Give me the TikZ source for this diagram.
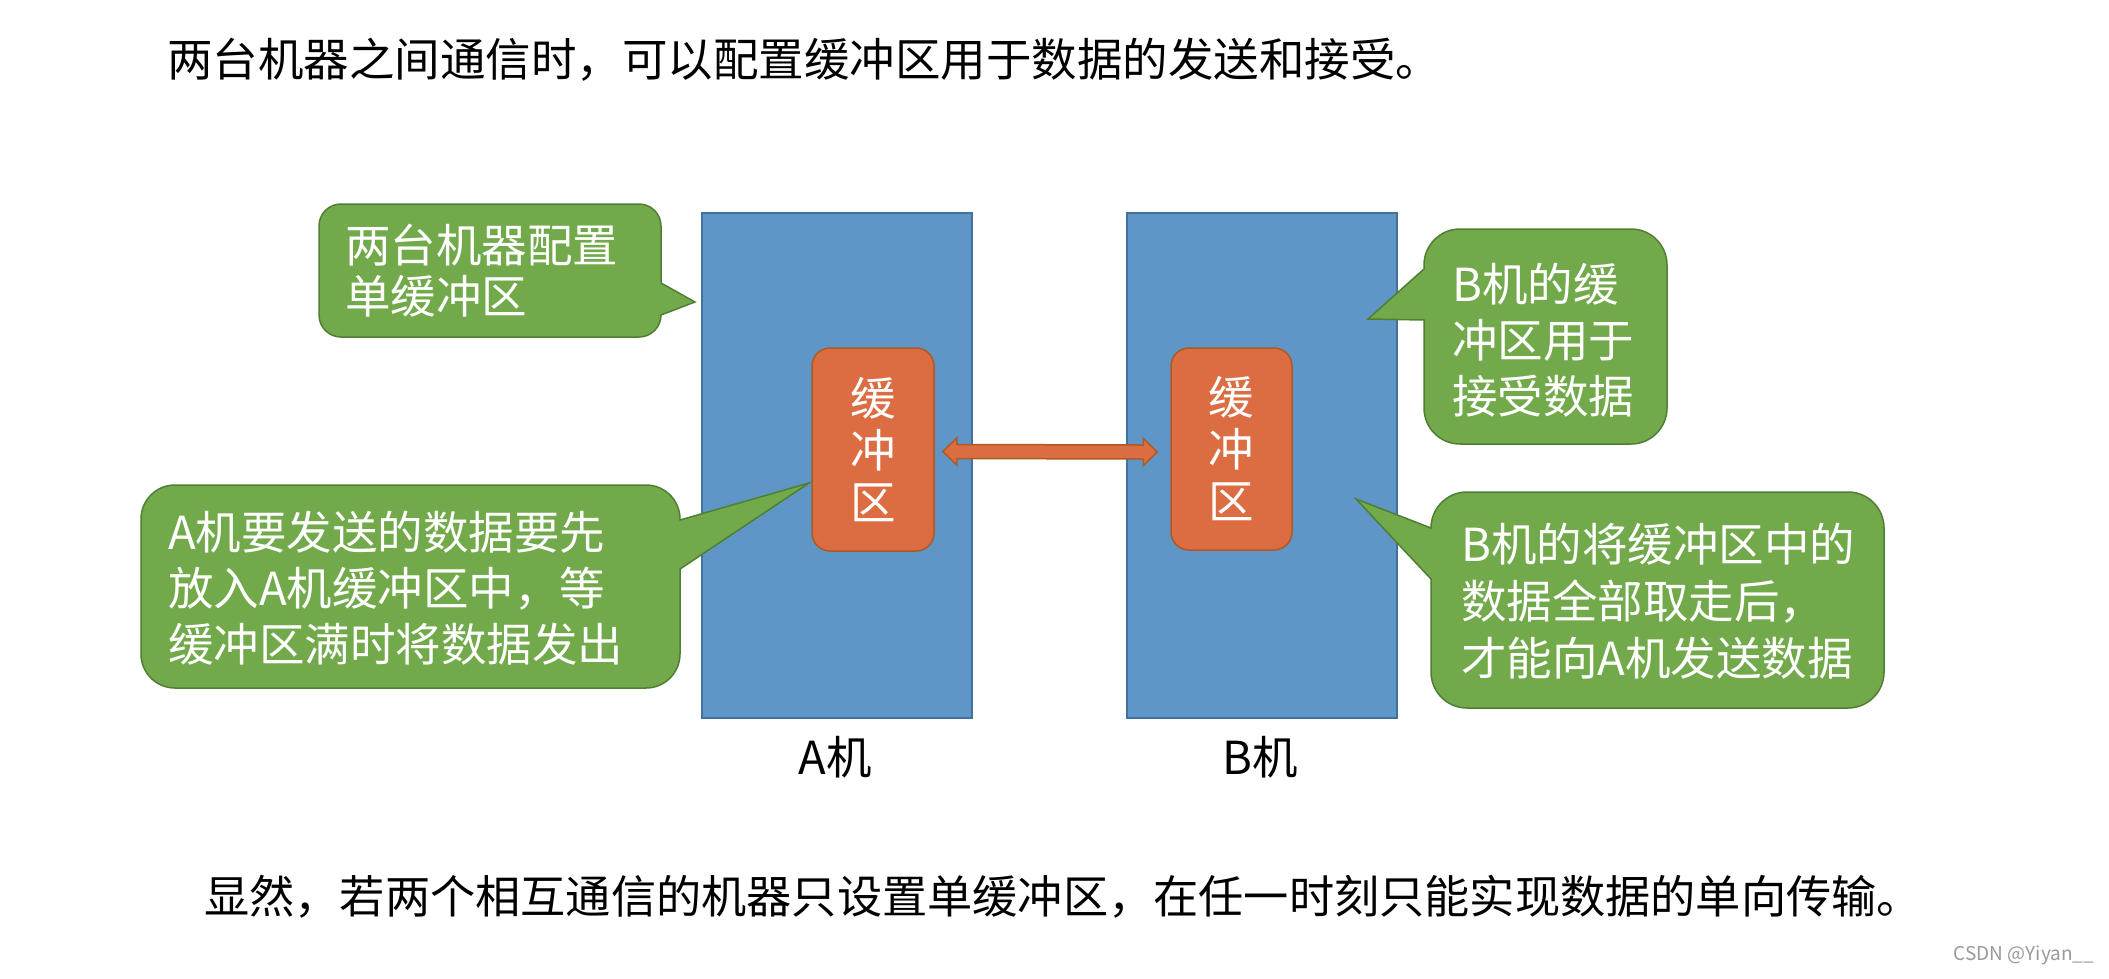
\documentclass[tikz,border=0pt]{standalone}
\usepackage{fontspec}
\setmainfont{Noto Sans CJK SC}
\usetikzlibrary{calc}
\definecolor{boxblue}{HTML}{5E96C8}
\definecolor{boxblueline}{HTML}{41719C}
\definecolor{bufor}{HTML}{DC6D42}
\definecolor{buforline}{HTML}{AE5A21}
\definecolor{callgreen}{HTML}{72AA4B}
\definecolor{callgreenline}{HTML}{507E32}
\definecolor{marktext}{HTML}{9A9A9A}
\begin{document}
\begin{tikzpicture}[x=1pt,y=-1pt,
  machine/.style={draw=boxblueline, fill=boxblue, line width=1.5pt, inner sep=0pt,
    minimum width=270pt, minimum height=505pt},
  buffer/.style={draw=buforline, fill=bufor, line width=1.5pt, rounded corners=18pt,
    inner sep=0pt, minimum width=122pt, minimum height=203pt, text=white,
    align=center, font=\fontsize{45.5}{52}\selectfont},
  dblarrow/.style={draw=buforline, fill=bufor, line width=1.5pt, line join=miter},
  callout/.style={draw=callgreenline, fill=callgreen, line width=1.5pt},
  calltext/.style={inner sep=0pt, anchor=west, align=left, text=white},
  plaintext/.style={inner sep=0pt, text=black, font=\fontsize{45.5}{52}\selectfont},
  wmtext/.style={inner sep=0pt, text=marktext, font=\fontsize{19}{22}\selectfont}]
\useasboundingbox (0,0) rectangle (2109,978);
\fill[white] (0,0) rectangle (2109,978);

% title
\node[plaintext, anchor=west] (title) at (167,60) {两台机器之间通信时，可以配置缓冲区用于数据的发送和接受。};

% machines
\node[machine] (machA) at (837,465.5) {};
\node[machine] (machB) at (1262,465.5) {};

% buffers
\node[buffer] (bufA) at (873,449.5) {缓\\冲\\区};
\node[buffer, minimum width=121pt, minimum height=202pt] (bufB) at (1231.5,449) {缓\\冲\\区};

% double block arrow between buffers
\coordinate (al) at ($(bufA.east)+(8,2)$);
\coordinate (ar) at ($(bufB.west)+(-13,3)$);
\draw[dblarrow] (al) -- ++(14,-13.5) -- ++(0,6.5) -- ($(ar)+(-14,-7)$) -- ++(0,-6.5)
  -- (ar) -- ++(-14,13.5) -- ++(0,-6.5) -- ($(al)+(14,7)$) -- ++(0,6.5) -- cycle;

% callout 1 (top left)
\draw[callout] (341,204) -- (639,204) arc[start angle=270,end angle=360,radius=22]
  -- (661,283) -- (695,302) -- (661,315) arc[start angle=0,end angle=90,radius=22]
  -- (341,337) arc[start angle=90,end angle=180,radius=22]
  -- (319,226) arc[start angle=180,end angle=270,radius=22] -- cycle;
% callout A (bottom left)
\draw[callout] (175,485) -- (646,485) arc[start angle=270,end angle=360,radius=34]
  -- (680,520) -- (809,483) -- (680,569) -- (680,654)
  arc[start angle=0,end angle=90,radius=34]
  -- (175,688) arc[start angle=90,end angle=180,radius=34]
  -- (141,519) arc[start angle=180,end angle=270,radius=34] -- cycle;
% callout B1 (top right)
\draw[callout] (1460,229) -- (1631,229) arc[start angle=270,end angle=360,radius=36]
  -- (1667,408) arc[start angle=0,end angle=90,radius=36]
  -- (1460,444) arc[start angle=90,end angle=180,radius=36]
  -- (1424,320) -- (1368,319) -- (1424,269) -- (1424,265)
  arc[start angle=180,end angle=270,radius=36] -- cycle;
% callout B2 (bottom right)
\draw[callout] (1467,492) -- (1848,492) arc[start angle=270,end angle=360,radius=36]
  -- (1884,672) arc[start angle=0,end angle=90,radius=36]
  -- (1467,708) arc[start angle=90,end angle=180,radius=36]
  -- (1431,579) -- (1356,499) -- (1431,528)
  arc[start angle=180,end angle=270,radius=36] -- cycle;

% callout texts
\node[calltext, font=\fontsize{45.5}{51}\selectfont] (t1) at (345,271) {两台机器配置\\单缓冲区};
\node[calltext, font=\fontsize{45.5}{56}\selectfont] (tA) at (168,588) {A机要发送的数据要先\\放入A机缓冲区中，等\\缓冲区满时将数据发出};
\node[calltext, font=\fontsize{45.5}{56}\selectfont] (tB1) at (1452,340) {B机的缓\\冲区用于\\接受数据};
\node[calltext, font=\fontsize{45.5}{57}\selectfont] (tB2) at (1461,601) {B机的将缓冲区中的\\数据全部取走后，\\才能向A机发送数据};

% machine labels
\node[plaintext] (labA) at (835,757) {A机};
\node[plaintext] (labB) at (1260,757) {B机};

% conclusion
\node[plaintext, anchor=west, font=\fontsize{45.2}{52}\selectfont] (concl) at (204,897) {显然，若两个相互通信的机器只设置单缓冲区，在任一时刻只能实现数据的单向传输。};

% watermark
\node[wmtext] (wm) at (2024,955) {CSDN @Yiyan\_\_};
\end{tikzpicture}
\end{document}
